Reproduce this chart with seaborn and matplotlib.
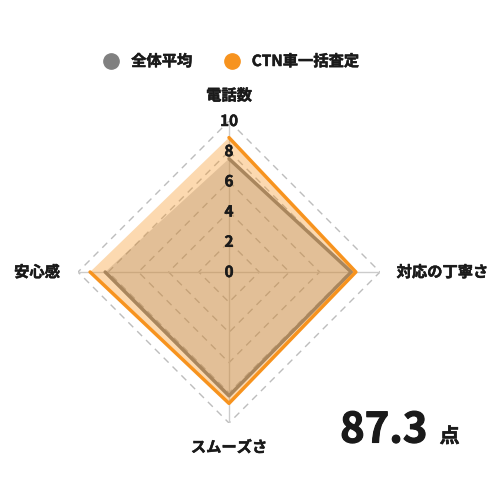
import numpy as np
import pandas as pd
import matplotlib.pyplot as plt
import matplotlib.patheffects as pe
from matplotlib.lines import Line2D
import seaborn as sns

# --- DATA ---
CATEGORIES = ["電話数", "対応の丁寧さ", "スムーズさ", "安心感"]
AVERAGE = [7.5, 8.1, 8.2, 8.2]
CTN = [8.9, 8.4, 8.7, 9.2]
SERIES_NAMES = ["全体平均", "CTN車一括査定"]
TICKS = [0, 2, 4, 6, 8, 10]
SCORE = "87.3"
SCORE_UNIT = "点"

COLORS = {"全体平均": "#808080", "CTN車一括査定": "#f7931e"}
FONT = ["Noto Sans CJK JP", "DejaVu Sans"]
TXT = "#1a1a1a"
BOLD = [pe.withStroke(linewidth=0.35, foreground=TXT)]

sns.set_theme(style="white")
plt.rcParams['font.family'] = FONT

n = len(CATEGORIES)
angles = np.linspace(0, 2 * np.pi, n, endpoint=False)
closed = np.append(angles, angles[0])

rows = []
for name, vals in zip(SERIES_NAMES, [AVERAGE, CTN]):
    for i, a in enumerate(closed):
        rows.append({"theta": a, "value": vals[i % n], "series": name, "order": i})
df = pd.DataFrame(rows)

fig = plt.figure(figsize=(5, 5), dpi=100)
cx, cy, rad = 0.458, 0.456, 0.302
ax = fig.add_axes([cx - rad, cy - rad, 2 * rad, 2 * rad], projection="polar")
ax.set_theta_offset(np.pi / 2)
ax.set_theta_direction(-1)
ax.set_ylim(0, 10)
ax.grid(False)
ax.spines["polar"].set_visible(False)
ax.set_xticks([])
ax.set_yticks([])

# grid rings and spokes
for t in TICKS[1:]:
    ax.plot(closed, [t] * len(closed), color="#bdbdbd", lw=1, ls=(0, (5, 4)), zorder=1)
for a in angles:
    ax.plot([a, a], [0, 10], color="#cccccc", lw=1, zorder=1)

# series (orange fill drawn over the grey outline)
for k, (name, vals) in enumerate(zip(SERIES_NAMES, [AVERAGE, CTN])):
    sub = df[df["series"] == name]
    alpha = 0.3 if name == "全体平均" else 0.35
    ax.fill(sub["theta"], sub["value"], color=COLORS[name], alpha=alpha, lw=0, zorder=2 + 2 * k)
    sns.lineplot(data=sub, x="theta", y="value", sort=False, color=COLORS[name],
                 lw=2.5, ax=ax, zorder=3 + 2 * k, legend=False)
ax.set_xlabel("")
ax.set_ylabel("")

# tick numbers on top axis
for t in TICKS:
    ax.text(0, t, str(t), ha="center", va="center", fontsize=11, fontweight="bold",
            color=TXT, zorder=8, path_effects=BOLD)

# category labels
lab = dict(fontsize=11, fontweight="bold", color=TXT, path_effects=BOLD)
ax.text(0, 11.7, CATEGORIES[0], ha="center", va="center", **lab)
ax.text(np.pi / 2, 11.1, CATEGORIES[1], ha="left", va="center", **lab)
ax.text(np.pi, 11.6, CATEGORIES[2], ha="center", va="center", **lab)
ax.text(3 * np.pi / 2, 11.2, CATEGORIES[3], ha="right", va="center", **lab)

# legend
handles = [Line2D([], [], marker="o", ls="", markersize=11, color=COLORS[s]) for s in SERIES_NAMES]
leg = fig.legend(handles, SERIES_NAMES, loc="center", bbox_to_anchor=(0.455, 0.878), ncol=2,
                 frameon=False, handletextpad=0.3, columnspacing=1.6,
                 prop={"family": FONT, "weight": "bold", "size": 11})
for t in leg.get_texts():
    t.set_color(TXT)
    t.set_path_effects(BOLD)

# score
fig.text(0.855, 0.115, SCORE, ha="right", va="baseline", fontsize=30, fontweight="bold",
         color=TXT, path_effects=[pe.withStroke(linewidth=0.8, foreground=TXT)])
fig.text(0.879, 0.115, SCORE_UNIT, ha="left", va="baseline", fontsize=14.5, fontweight="bold",
         color=TXT, path_effects=BOLD)

plt.savefig("out.png", dpi=100)
